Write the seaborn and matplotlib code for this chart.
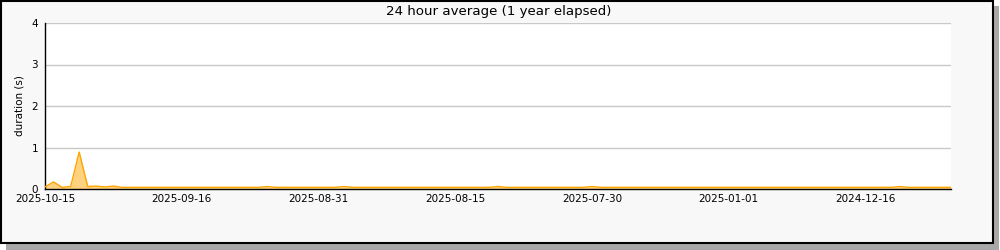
import numpy as np
import pandas as pd
import matplotlib
matplotlib.use("Agg")
import matplotlib.pyplot as plt
from matplotlib.patches import Rectangle
from matplotlib.ticker import MultipleLocator
import seaborn as sns

# ---- data ----
title = "24 hour average (1 year elapsed)"
ylabel = "duration (s)"
tick_labels = ["2025-10-15", "", "2025-09-16", "", "2025-08-31", "", "2025-08-15", "",
               "2025-07-30", "", "2025-01-01", "", "2024-12-16", ""]
durations = [0.05, 0.17, 0.04, 0.06, 0.89, 0.06, 0.07, 0.05, 0.07, 0.04,
             0.04, 0.04, 0.04, 0.04, 0.04, 0.04, 0.04, 0.04, 0.04, 0.04,
             0.04, 0.04, 0.04, 0.04, 0.04, 0.04, 0.06, 0.04, 0.04, 0.04,
             0.04, 0.04, 0.04, 0.04, 0.04, 0.06, 0.04, 0.04, 0.04, 0.04,
             0.04, 0.04, 0.04, 0.04, 0.04, 0.04, 0.04, 0.04, 0.04, 0.04,
             0.04, 0.04, 0.04, 0.06, 0.04, 0.04, 0.04, 0.04, 0.04, 0.04,
             0.04, 0.04, 0.04, 0.04, 0.06, 0.04, 0.04, 0.04, 0.04, 0.04,
             0.04, 0.04, 0.04, 0.04, 0.04, 0.04, 0.04, 0.04, 0.04, 0.04,
             0.04, 0.04, 0.04, 0.04, 0.04, 0.04, 0.04, 0.04, 0.04, 0.04,
             0.04, 0.04, 0.04, 0.04, 0.04, 0.04, 0.04, 0.04, 0.04, 0.04,
             0.06, 0.04, 0.04, 0.04, 0.04, 0.04, 0.04]

sns.set_theme(style="white")
plt.rcParams['font.family'] = ['DejaVu Sans']

idx = np.arange(len(durations))
df = pd.DataFrame({"i": idx, "v": durations})

fig = plt.figure(figsize=(10, 2.5), dpi=100, facecolor="white")

# frame with shadow
W, H = 1000.0, 250.0
fig.patches.append(Rectangle((6 / W, 0), 993 / W, 244 / H, transform=fig.transFigure,
                             facecolor="#a8a8a8", edgecolor="none", zorder=-3))
fig.patches.append(Rectangle((1 / W, 7 / H), 992 / W, 242 / H, transform=fig.transFigure,
                             facecolor="#f8f8f8", edgecolor="black", linewidth=1.5, zorder=-2))

ax = fig.add_axes([45 / W, 1 - 189 / H, 906 / W, 166 / H])
ax.set_facecolor("white")

ax.fill_between(df["i"], df["v"], 0, color="#ffd27f", linewidth=0, zorder=2)
sns.lineplot(data=df, x="i", y="v", ax=ax, color="#ffa500", linewidth=1.0, zorder=3)

ax.set_xlim(0, len(durations) - 1)
ax.set_ylim(0, 4)
ax.yaxis.set_major_locator(MultipleLocator(1))
ax.yaxis.set_minor_locator(MultipleLocator(0.5))
ax.set_xticks(np.arange(0, 8 * len(tick_labels), 8))
ax.set_xticklabels(tick_labels)
ax.grid(axis="y", which="major", color="#c8c8c8", linewidth=1.0, zorder=0)
ax.grid(axis="x", visible=False)

ax.tick_params(axis="both", which="both", direction="in", length=5, width=1,
               color="black", labelsize=7.5, labelcolor="black")
ax.tick_params(axis="x", pad=3.5)
ax.tick_params(axis="y", which="both", pad=5)

for s in ["top", "right"]:
    ax.spines[s].set_visible(False)
for s in ["left", "bottom"]:
    ax.spines[s].set_color("black")
    ax.spines[s].set_linewidth(1.0)

ax.set_xlabel("")
ax.set_ylabel(ylabel, fontsize=7.5, color="black", labelpad=5)
fig.text(0.499, 1 - 11 / H, title, ha="center", va="center", fontsize=9.6, color="black")

fig.savefig("out.png", dpi=100)
